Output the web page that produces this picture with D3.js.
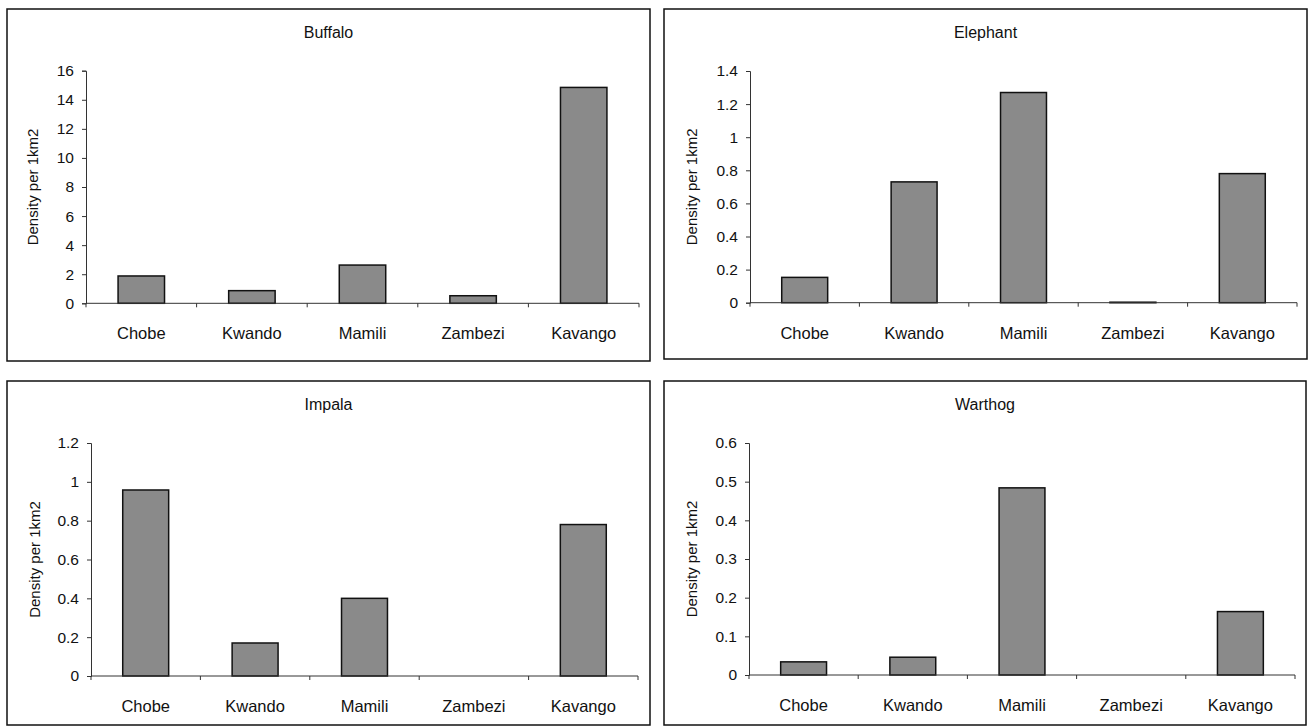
<!DOCTYPE html>
<html>
<head>
<meta charset="utf-8">
<script src="https://cdn.jsdelivr.net/npm/d3@7"></script>
<style>
  html, body { margin: 0; padding: 0; background: #fff; }
  svg { display: block; }
  text { font-family: "Liberation Sans", Arial, sans-serif; fill: #111; }
</style>
</head>
<body>
<svg id="chart" width="1310" height="727"></svg>
<script>
// ---- data ----
const categories = ["Chobe", "Kwando", "Mamili", "Zambezi", "Kavango"];
const buffalo  = [1.88, 0.87, 2.63, 0.52, 14.85];
const elephant = [0.153, 0.73, 1.27, 0.003, 0.78];
const impala   = [0.958, 0.17, 0.40, 0, 0.78];
const warthog  = [0.034, 0.046, 0.484, 0, 0.164];
const buffaloTicks  = [0, 2, 4, 6, 8, 10, 12, 14, 16];
const elephantTicks = [0, 0.2, 0.4, 0.6, 0.8, 1, 1.2, 1.4];
const impalaTicks   = [0, 0.2, 0.4, 0.6, 0.8, 1, 1.2];
const warthogTicks  = [0, 0.1, 0.2, 0.3, 0.4, 0.5, 0.6];
const titles = ["Buffalo", "Elephant", "Impala", "Warthog"];
const yAxisLabel = "Density per 1km2";

// ---- layout ----
const panels = [
  { title: titles[0], values: buffalo,  ticks: buffaloTicks,
    box: [7, 9, 650, 361],   plot: [86, 639, 70.7, 303.3], titleY: 38, ylabX: 33 },
  { title: titles[1], values: elephant, ticks: elephantTicks,
    box: [664, 9, 1307, 359], plot: [750, 1297, 71, 302.7], titleY: 38, ylabX: 692 },
  { title: titles[2], values: impala,   ticks: impalaTicks,
    box: [7, 381, 650, 725],  plot: [91, 638, 443, 676], titleY: 410, ylabX: 35 },
  { title: titles[3], values: warthog,  ticks: warthogTicks,
    box: [664, 381, 1306, 725], plot: [749, 1295, 443, 675], titleY: 410, ylabX: 692 }
];

const svg = d3.select("#chart");

panels.forEach(p => {
  const [bx0, by0, bx1, by1] = p.box;
  const [px0, px1, py0, py1] = p.plot;
  const g = svg.append("g");

  g.append("rect")
    .attr("x", bx0).attr("y", by0)
    .attr("width", bx1 - bx0).attr("height", by1 - by0)
    .attr("fill", "#fff").attr("stroke", "#111").attr("stroke-width", 1.5);

  const x = d3.scaleBand().domain(categories).range([px0, px1])
    .paddingInner(0.58).paddingOuter(0.29);
  const y = d3.scaleLinear()
    .domain([0, p.ticks[p.ticks.length - 1]])
    .range([py1, py0]);

  // title
  g.append("text")
    .attr("x", (bx0 + bx1) / 2).attr("y", p.titleY)
    .attr("text-anchor", "middle")
    .style("font-size", "16px")
    .text(p.title);

  // bars (zero values draw nothing)
  const data = p.values.map((v, i) => ({ cat: categories[i], v })).filter(d => d.v > 0);
  g.selectAll("rect.bar").data(data).enter().append("rect")
    .attr("class", "bar")
    .attr("x", d => x(d.cat))
    .attr("width", x.bandwidth())
    .attr("y", d => y(d.v))
    .attr("height", d => Math.max(0.5, y(0) - y(d.v)))
    .attr("fill", "#8a8a8a")
    .attr("stroke", "#111")
    .attr("stroke-width", 1.5);

  // y axis
  const yAxis = d3.axisLeft(y).tickValues(p.ticks).tickSize(4).tickPadding(8)
    .tickFormat(d3.format("~g"));
  const ya = g.append("g").attr("transform", `translate(${px0},0)`).call(yAxis);
  ya.select(".domain").attr("stroke", "#333");
  ya.selectAll(".tick line").attr("stroke", "#333");
  ya.selectAll(".tick text")
    .style("font-size", "15.5px")
    .style("font-family", "'Liberation Sans', Arial, sans-serif")
    .attr("fill", "#111");

  // x axis: ticks at band boundaries
  const xa = g.append("g").attr("transform", `translate(0,${py1})`);
  xa.append("line")
    .attr("x1", px0).attr("x2", px1)
    .attr("stroke", "#333");
  const step = x.step();
  const boundaries = d3.range(categories.length + 1).map(i => px0 + i * step);
  xa.selectAll("line.tk").data(boundaries).enter().append("line")
    .attr("class", "tk")
    .attr("x1", d => d).attr("x2", d => d)
    .attr("y1", 0).attr("y2", 4)
    .attr("stroke", "#333");
  xa.selectAll("text").data(categories).enter().append("text")
    .attr("x", d => x(d) + x.bandwidth() / 2)
    .attr("y", 36)
    .attr("text-anchor", "middle")
    .style("font-size", "16.5px")
    .text(d => d);

  // y label
  g.append("text")
    .attr("transform", `translate(${p.ylabX},${(py0 + py1) / 2}) rotate(-90)`)
    .attr("text-anchor", "middle")
    .attr("dy", "0.35em")
    .style("font-size", "15px")
    .text(yAxisLabel);
});
</script>
</body>
</html>
